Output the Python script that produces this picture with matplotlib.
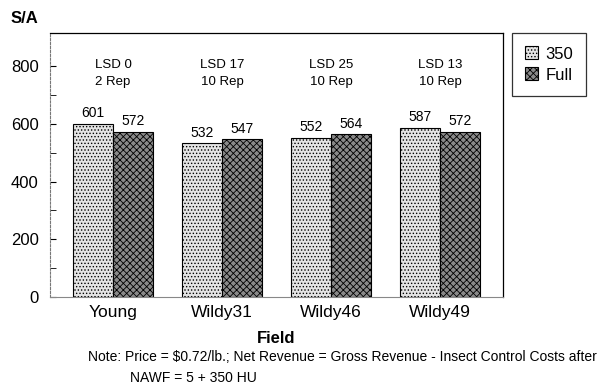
import matplotlib.pyplot as plt
import numpy as np

plt.rcParams['font.family'] = ['Liberation Sans', 'DejaVu Sans']
plt.rcParams['hatch.linewidth'] = 0.6

fields = ['Young', 'Wildy31', 'Wildy46', 'Wildy49']
rev_350 = [601, 532, 552, 587]
rev_full = [572, 547, 564, 572]
lsd_notes = ['LSD 0\n2 Rep', 'LSD 17\n10 Rep', 'LSD 25\n10 Rep', 'LSD 13\n10 Rep']

fig = plt.figure(figsize=(6.05, 3.85), dpi=100)
ax = fig.add_axes([0.0826, 0.2286, 0.7488, 0.6857])

x = np.arange(len(fields))
w = 0.367
b1 = ax.bar(x - w / 2, rev_350, w, facecolor='#e4e4e4', edgecolor='black',
            hatch='.....', linewidth=0.8, label='350')
b2 = ax.bar(x + w / 2, rev_full, w, facecolor='#8a8a8a', edgecolor='black',
            hatch='xxxxx', linewidth=0.8, label='Full')

for bars, vals in ((b1, rev_350), (b2, rev_full)):
    for r, v in zip(bars, vals):
        ax.text(r.get_x() + r.get_width() / 2, v + 12, str(v),
                ha='center', va='bottom', fontsize=10)

for i, s in enumerate(lsd_notes):
    ax.text(x[i], 775, s, ha='center', va='center', fontsize=9.5,
            linespacing=1.5)

ax.set_xlim(-0.578, 3.578)
ax.set_ylim(0, 915)
ax.set_yticks([0, 200, 400, 600, 800])
ax.set_yticks([100, 300, 500, 700], minor=True)
ax.tick_params(axis='y', direction='in', length=4, labelsize=12, pad=8)
ax.tick_params(axis='y', which='minor', direction='in', length=4)
ax.set_xticks(x)
ax.set_xticklabels(fields, fontsize=12.5)
ax.tick_params(axis='x', length=0, pad=6)

ax.spines['left'].set_linestyle((0, (2, 1.5)))
ax.spines['left'].set_color('#777777')
ax.spines['bottom'].set_color('#888888')
for s in ('top', 'right'):
    ax.spines[s].set_linewidth(0.9)

ax.set_xlabel('Field', fontsize=12, fontweight='bold', labelpad=8)
fig.text(0.017, 0.953, 'S/A', fontsize=12, fontweight='bold', va='center')

leg = fig.legend(handles=[b1, b2], loc='upper left',
                 bbox_to_anchor=(0.846, 0.914), borderaxespad=0,
                 fontsize=12, frameon=True, fancybox=False,
                 edgecolor='black', handlelength=0.8, handleheight=0.8,
                 handletextpad=0.4, borderpad=0.8, labelspacing=0.35)
leg.get_frame().set_linewidth(0.9)

fig.text(0.145, 0.073, 'Note: Price = $0.72/lb.; Net Revenue = Gross Revenue - '
         'Insect Control Costs after', fontsize=10, va='center')
fig.text(0.215, 0.018, 'NAWF = 5 + 350 HU', fontsize=10, va='center')

fig.savefig('out.png', dpi=100)
